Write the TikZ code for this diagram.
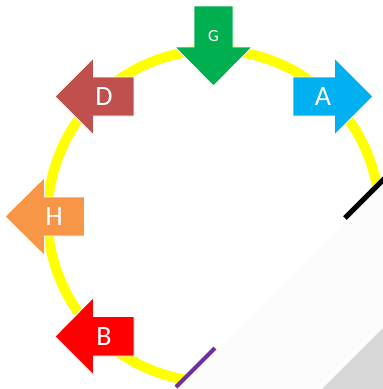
\documentclass[tikz,border=0pt]{standalone}
\usepackage{fontspec}
\setmainfont{Carlito}
\definecolor{ringY}{HTML}{FFFF00}
\definecolor{arrG}{HTML}{00B050}
\definecolor{arrA}{HTML}{00B0F0}
\definecolor{arrD}{HTML}{C0504D}
\definecolor{arrH}{HTML}{F79646}
\definecolor{arrB}{HTML}{FF0000}
\definecolor{lnP}{HTML}{7030A0}
\definecolor{curlL}{HTML}{FCFCFC}
\definecolor{curlG}{HTML}{D7D7D7}
\tikzset{
  blockarrow/.style={draw=white, line width=0.8pt, line join=miter},
  lbl/.style={text=white, inner sep=0pt, font=\fontsize{28}{28}\selectfont},
  lblsmall/.style={text=white, inner sep=0pt, font=\fontsize{17}{17}\selectfont},
}
\begin{document}
\begin{tikzpicture}[x=1pt,y=-1pt]
\path[use as bounding box, fill=white] (0,0) rectangle (383,389);
% page curl
\fill[curlL] (383,184) -- (383,389) -- (178,389) -- cycle;
\fill[curlG] (383,328) -- (383,389) -- (322,389) -- cycle;
% ring
\coordinate (c) at (213.5,216);
\begin{scope}
\clip (-10,-10) -- (400,-10) -- (400,163) -- (163,400) -- (-10,400) -- cycle;
\draw[ringY, line width=10pt] (c) circle[radius=166];
\end{scope}
% edge lines
\coordinate (k1) at (345,218);
\coordinate (k2) at (392,171);
\draw[black, line width=5pt] (k1) -- (k2);
\coordinate (p1) at (176,387);
\coordinate (p2) at (215,348);
\draw[lnP, line width=4pt] (p1) -- (p2);
% G arrow (down)
\fill[arrG, blockarrow] (194,6) -- (233,6) -- (233,47) -- (252,47) -- (213.5,86) -- (175,47) -- (194,47) -- cycle;
\node[lblsmall] (lg) at (213.5,36) {G};
% A arrow (right)
\fill[arrA, blockarrow] (293,77) -- (334.5,77) -- (334.5,58) -- (373,96.5) -- (334.5,135) -- (334.5,116) -- (293,116) -- cycle;
\node[lbl] (la) at (323,97) {A};
% D arrow (left)
\fill[arrD, blockarrow] (134,77) -- (93.5,77) -- (93.5,58) -- (55,96.5) -- (93.5,135) -- (93.5,116) -- (134,116) -- cycle;
\node[lbl] (ld) at (104,97) {D};
% H arrow (left)
\fill[arrH, blockarrow] (84.5,197) -- (44.5,197) -- (44.5,177.5) -- (5,216.5) -- (44.5,255.5) -- (44.5,236) -- (84.5,236) -- cycle;
\node[lbl] (lh) at (54,217) {H};
% B arrow (left)
\fill[arrB, blockarrow] (134,316.5) -- (93.5,316.5) -- (93.5,297.5) -- (55,336.5) -- (93.5,375) -- (93.5,356) -- (134,356) -- cycle;
\node[lbl] (lb) at (104,337) {B};
\end{tikzpicture}
\end{document}
